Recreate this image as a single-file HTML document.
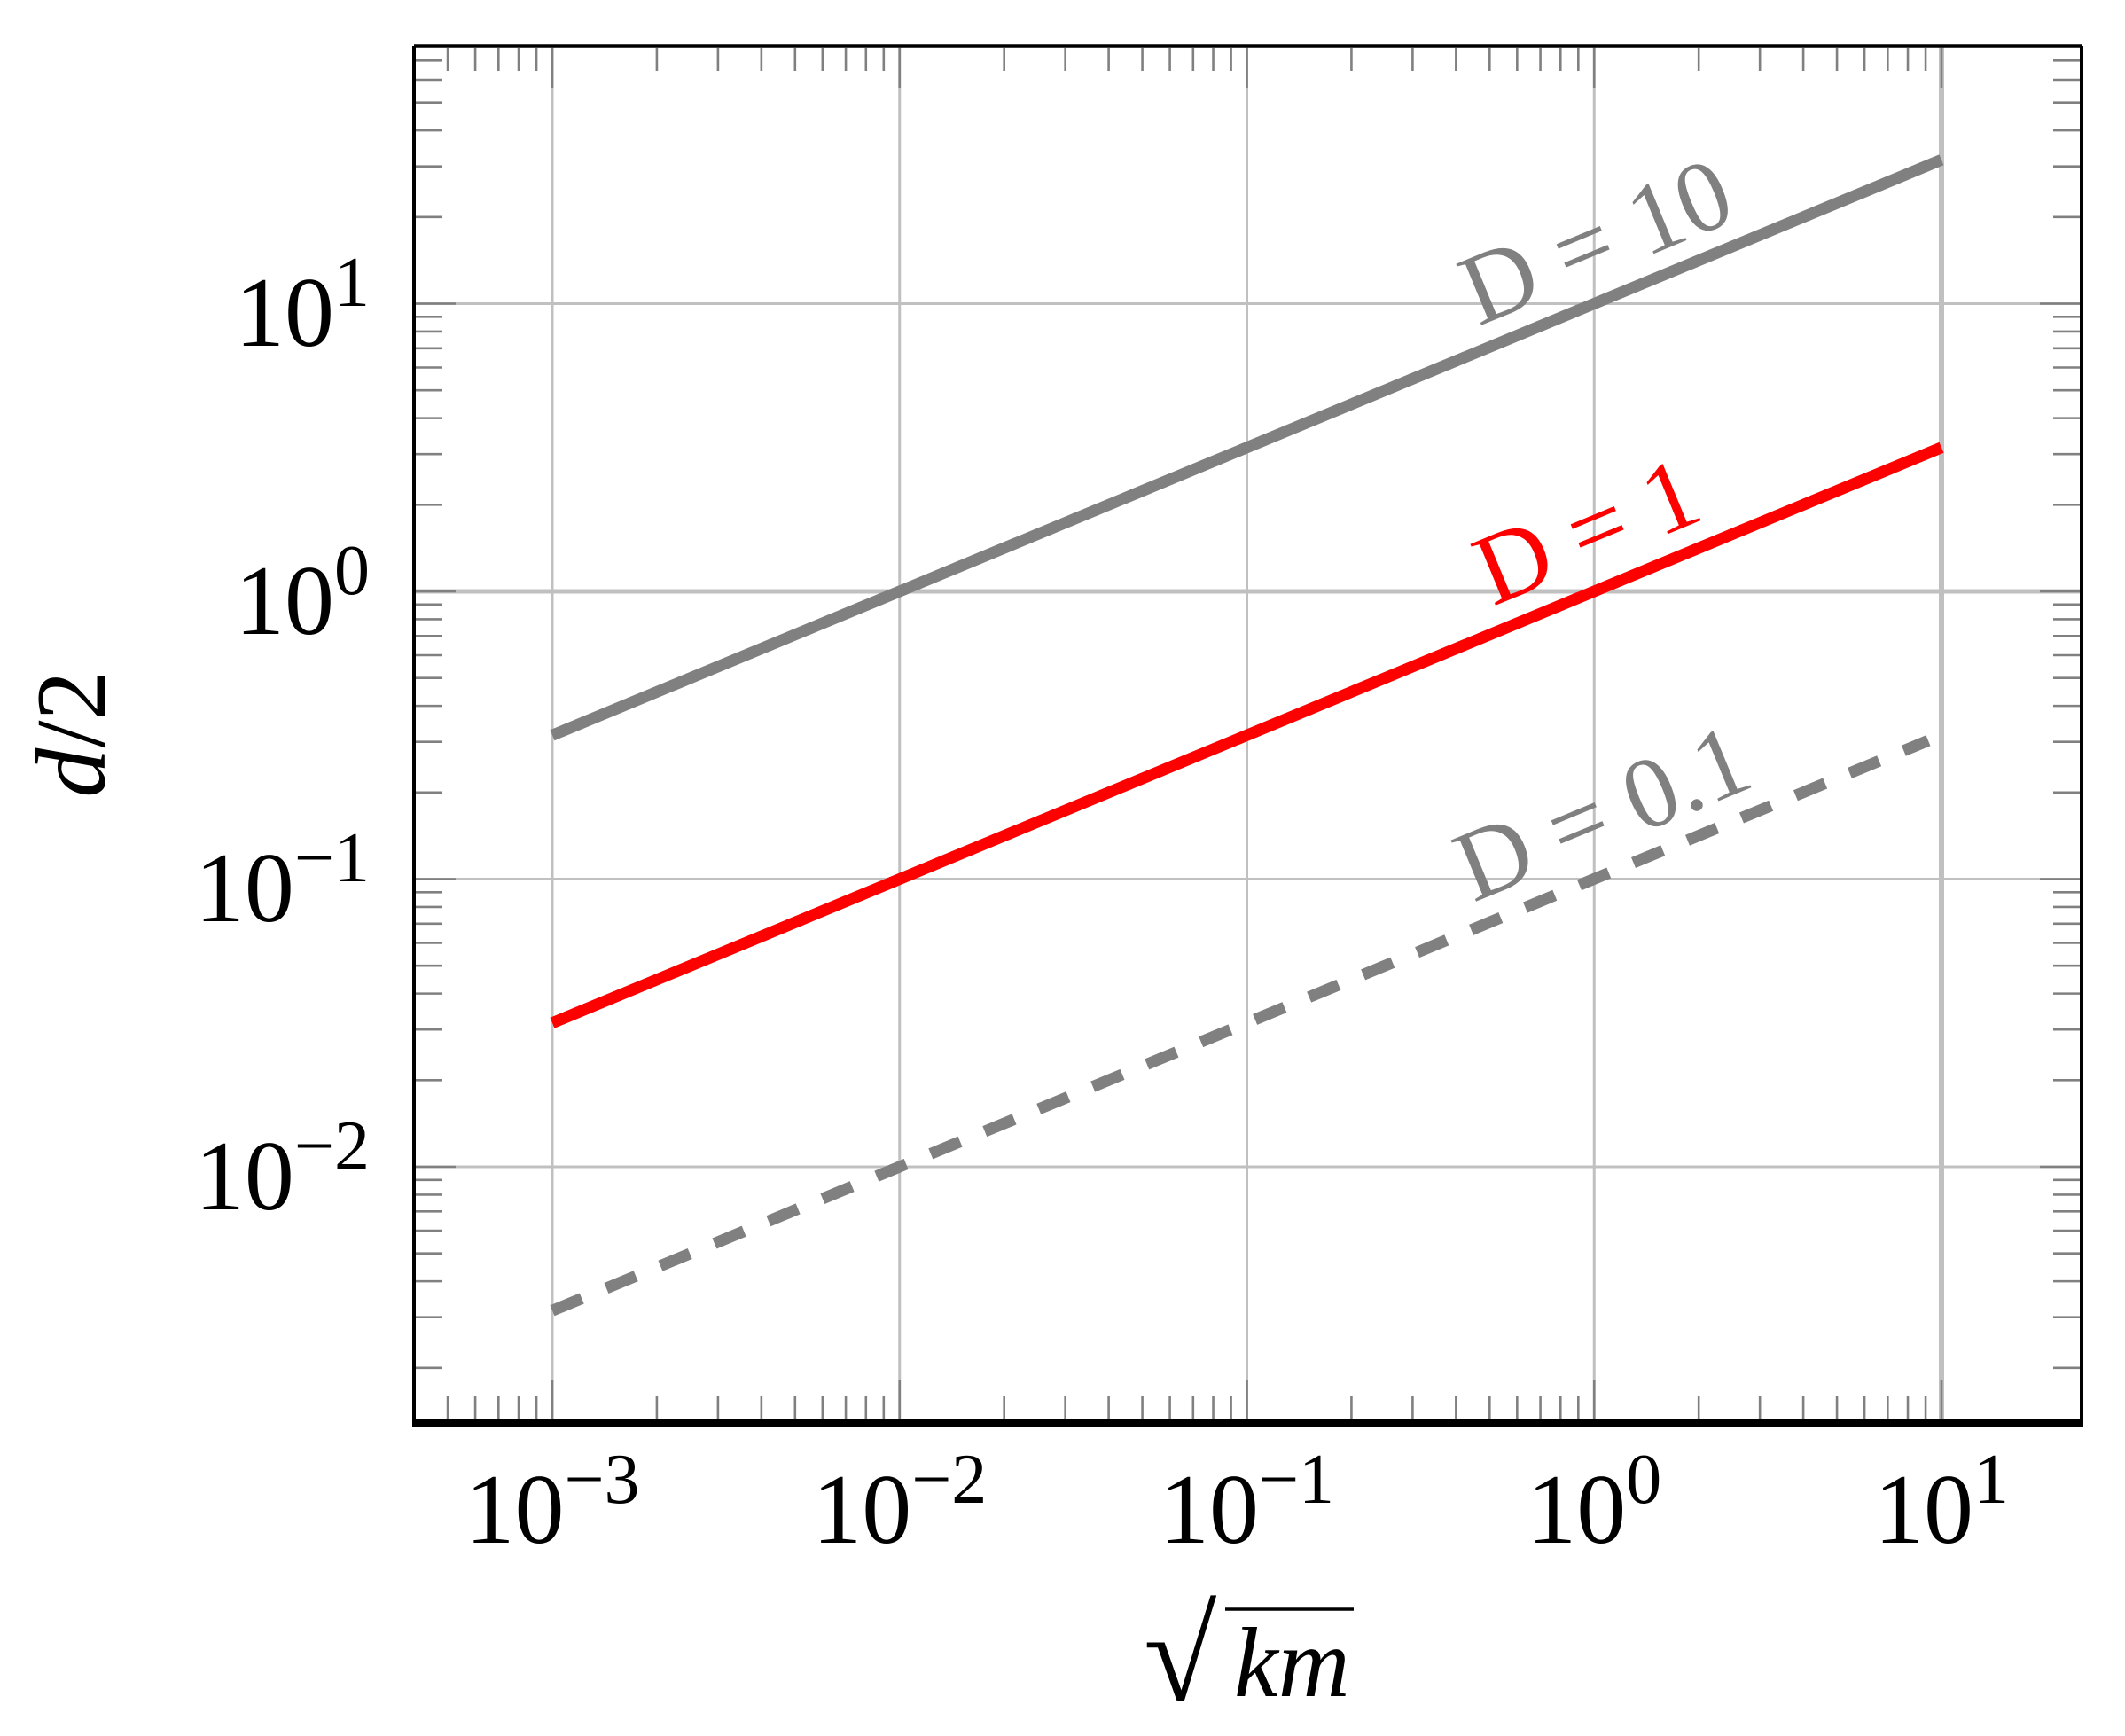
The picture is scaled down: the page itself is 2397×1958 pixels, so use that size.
<!DOCTYPE html>
<html><head><meta charset="utf-8"><style>
html,body{margin:0;padding:0;background:#fff}
svg{display:block}
text{font-family:"Liberation Serif","DejaVu Serif",serif}
</style></head><body>
<svg width="2397" height="1958" viewBox="0 0 2397 1958" xmlns="http://www.w3.org/2000/svg">
<rect width="2397" height="1958" fill="#fff"/>
<g id="grid" stroke="#c0c0c0">
<line x1="623" y1="52" x2="623" y2="1605" stroke-width="3"/>
<line x1="1014.75" y1="52" x2="1014.75" y2="1605" stroke-width="3"/>
<line x1="1406.5" y1="52" x2="1406.5" y2="1605" stroke-width="3"/>
<line x1="1798.25" y1="52" x2="1798.25" y2="1605" stroke-width="3"/>
<line x1="2190" y1="52" x2="2190" y2="1605" stroke-width="6"/>
<line x1="467" y1="342.5" x2="2348" y2="342.5" stroke-width="3"/>
<line x1="467" y1="667" x2="2348" y2="667" stroke-width="5"/>
<line x1="467" y1="991.5" x2="2348" y2="991.5" stroke-width="3"/>
<line x1="467" y1="1316" x2="2348" y2="1316" stroke-width="3"/>
</g>
<g id="ticks" stroke="#808080" stroke-width="2.6"></g>
<line x1="623" y1="829.25" x2="2190" y2="180.25" stroke="#808080" stroke-width="13"/>
<line x1="623" y1="1153.75" x2="2190" y2="504.75" stroke="#ff0000" stroke-width="13"/>
<line x1="623" y1="1478.25" x2="2175" y2="835.3" stroke="#808080" stroke-width="13" stroke-dasharray="36,30"/>
<g fill="none" stroke="#000">
<line x1="467" y1="52" x2="2348" y2="52" stroke-width="3.5"/>
<line x1="467" y1="52" x2="467" y2="1605" stroke-width="4"/>
<line x1="2348" y1="52" x2="2348" y2="1605" stroke-width="4"/>
<line x1="465" y1="1605" x2="2350" y2="1605" stroke-width="8"/>
</g>
<g font-size="112" fill="#000">
<text x="417" y="390" text-anchor="end">10<tspan font-size="80" dy="-45">1</tspan></text>
<text x="417" y="715" text-anchor="end">10<tspan font-size="80" dy="-45">0</tspan></text>
<text x="417" y="1039" text-anchor="end">10<tspan font-size="80" dy="-45">−1</tspan></text>
<text x="417" y="1364" text-anchor="end">10<tspan font-size="80" dy="-45">−2</tspan></text>
<text x="623" y="1740" text-anchor="middle">10<tspan font-size="80" dy="-45">−3</tspan></text>
<text x="1014.75" y="1740" text-anchor="middle">10<tspan font-size="80" dy="-45">−2</tspan></text>
<text x="1406.5" y="1740" text-anchor="middle">10<tspan font-size="80" dy="-45">−1</tspan></text>
<text x="1798.25" y="1740" text-anchor="middle">10<tspan font-size="80" dy="-45">0</tspan></text>
<text x="2190" y="1740" text-anchor="middle">10<tspan font-size="80" dy="-45">1</tspan></text>
</g>
<text x="118" y="828" font-size="112" text-anchor="middle" transform="rotate(-90 118 828)"><tspan font-style="italic">d</tspan>/2</text>
<text x="1290" y="1918" font-size="150">√</text>
<line x1="1382" y1="1815" x2="1527" y2="1815" stroke="#000" stroke-width="3.5"/>
<text x="1392" y="1913" font-size="112" font-style="italic">km</text>
<g font-size="114">
<text x="1668" y="368" fill="#808080" transform="rotate(-22.5 1668 368)">D = 10</text>
<text x="1684" y="684" fill="#ff0000" transform="rotate(-22.5 1684 684)">D = 1</text>
<text x="1662" y="1018" fill="#808080" transform="rotate(-22.5 1662 1018)">D = 0.1</text>
</g>
<script>
(function(){
var g=document.getElementById('ticks'),ns='http://www.w3.org/2000/svg';
function L(a,b,c,d){var l=document.createElementNS(ns,'line');l.setAttribute('x1',a);l.setAttribute('y1',b);l.setAttribute('x2',c);l.setAttribute('y2',d);g.appendChild(l);}
function X(lx){return 623+391.75*(lx+3);}
function Y(ly){return 667-324.5*ly;}
for(var e=-4;e<=0;e++){for(var k=1;k<=9;k++){var lx=e+Math.log10(k);if(lx<-3.31||lx>1.001)continue;var x=X(lx),len=(k==1)?45:26;
L(x,1601,x,1601-len);L(x,54,x,54+len);}}
L(X(1),1601,X(1),1556);L(X(1),54,X(1),99);
for(var e=-3;e<=1;e++){for(var k=1;k<=9;k++){var ly=e+Math.log10(k);var y=Y(ly);if(y<56||y>1600)continue;var len=(k==1)?45:30;
L(469,y,469+len,y);L(2346,y,2346-len,y);}}
})();
</script>
</svg>
</body></html>
